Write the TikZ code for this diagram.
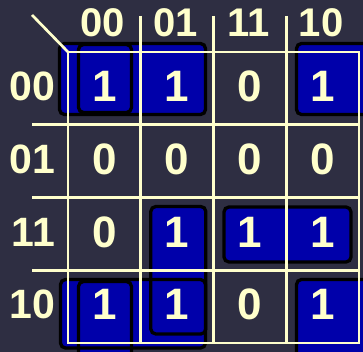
\documentclass[tikz,border=0pt]{standalone}
\usepackage{fontspec}
\setmainfont{Liberation Sans}
\definecolor{bg}{HTML}{2E2E42}
\definecolor{cream}{HTML}{FFFFCC}
\definecolor{kblue}{HTML}{0000AA}
\newcommand\kmapgroups{59.5/43.5/205.5/114.5, 78.5/44.5/131.5/112.5, 296.5/43.5/380/114.5, 60.5/279.5/205.5/348, 78.5/281.5/131.5/370, 296.5/279.5/380/370, 150.8/206.5/205.8/334, 224/207/351/262}
\begin{document}
\begin{tikzpicture}[x=1pt,y=-1pt,
  gridline/.style={draw=cream,line width=2.7pt},
  grpfill/.style={fill=kblue,rounded corners=5pt},
  grpline/.style={draw=black,line width=3.3pt,rounded corners=5pt},
  celltxt/.style={text=cream,font=\fontsize{44}{44}\selectfont\bfseries,inner sep=0pt,text depth=0pt},
  hdrtxt/.style={text=cream,font=\fontsize{40}{40}\selectfont\bfseries,inner sep=0pt,text depth=0pt},
  rowtxt/.style={text=cream,font=\fontsize{41}{41}\selectfont\bfseries,inner sep=0pt,text depth=0pt,anchor=east}]
\fill[bg] (0,0) rectangle (363,352);
\useasboundingbox (0,0) rectangle (363,352);
\clip (0,0) rectangle (363,352);
% groups
\foreach \a/\b/\c/\d in \kmapgroups { \fill[grpfill] (\a,\b) rectangle (\c,\d); }
\foreach \a/\b/\c/\d in \kmapgroups { \draw[grpline] (\a,\b) rectangle (\c,\d); }
% grid
\draw[gridline] (68,52) rectangle (359,343);
\foreach \y in {124.75,197.5,270.25} { \draw[gridline] (32,\y) -- (359,\y); }
\foreach \x in {140.75,213.5,286.25} { \draw[gridline] (\x,16) -- (\x,343); }
\coordinate (diagA) at (32,15);
\coordinate (diagB) at (68,52);
\draw[gridline] (diagA) -- (diagB);
% headers
\node[hdrtxt] (h0) at (103,22.5) {00};
\node[hdrtxt] (h1) at (175.6,22.5) {01};
\node[hdrtxt] (h2) at (248.4,22.5) {11};
\node[hdrtxt] (h3) at (321,22.5) {10};
\node[rowtxt] (r0) at (55.5,86.4) {00};
\node[rowtxt] (r1) at (55.5,159.1) {01};
\node[rowtxt] (r2) at (55.5,231.9) {11};
\node[rowtxt] (r3) at (55.5,304.6) {10};
% cells
\foreach \v [count=\j from 0] in {1,1,0,1} { \node[celltxt] (a\j) at (104.4+72.75*\j,86.4) {\v}; }
\foreach \v [count=\j from 0] in {0,0,0,0} { \node[celltxt] (b\j) at (104.4+72.75*\j,159.1) {\v}; }
\foreach \v [count=\j from 0] in {0,1,1,1} { \node[celltxt] (c\j) at (104.4+72.75*\j,231.9) {\v}; }
\foreach \v [count=\j from 0] in {1,1,0,1} { \node[celltxt] (d\j) at (104.4+72.75*\j,304.6) {\v}; }
\end{tikzpicture}
\end{document}
